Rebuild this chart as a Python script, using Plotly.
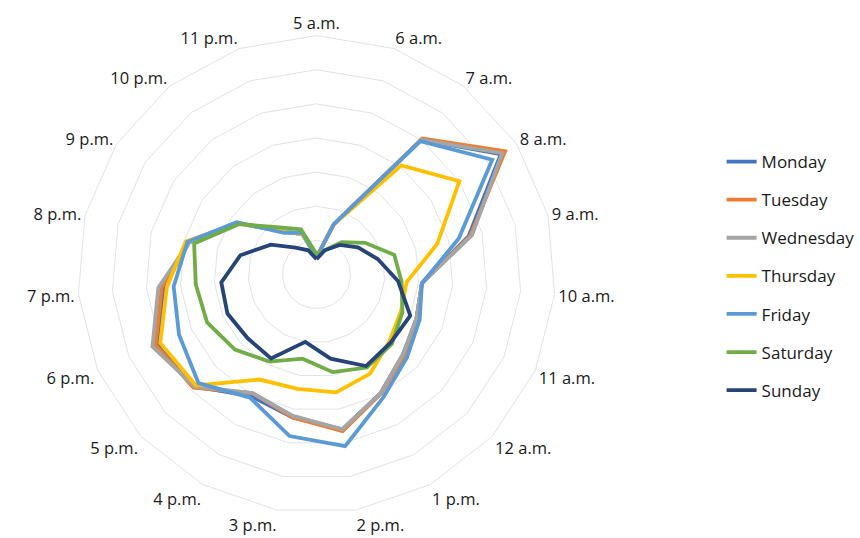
import plotly.graph_objects as go

hours = ["5 a.m.", "6 a.m.", "7 a.m.", "8 a.m.", "9 a.m.", "10 a.m.", "11 a.m.",
         "12 a.m.", "1 p.m.", "2 p.m.", "3 p.m.", "4 p.m.", "5 p.m.", "6 p.m.",
         "7 p.m.", "8 p.m.", "9 p.m.", "10 p.m.", "11 p.m."]

monday    = [0.5, 1.55, 5.0, 6.45, 4.6, 3.1, 3.2, 3.45, 3.95, 4.6, 4.25, 4.05, 4.85, 5.1, 4.5, 3.85, 2.75, 1.6, 1.25]
tuesday   = [0.5, 1.55, 5.05, 6.6, 4.65, 3.1, 3.2, 3.5, 3.97, 4.65, 4.25, 3.95, 4.9, 5.15, 4.55, 3.85, 2.75, 1.6, 1.25]
wednesday = [0.5, 1.55, 5.0, 6.5, 4.7, 3.1, 3.2, 3.45, 3.95, 4.6, 4.2, 3.95, 4.85, 5.25, 4.65, 3.85, 2.75, 1.6, 1.25]
thursday  = [0.5, 1.55, 4.05, 5.0, 3.65, 2.65, 2.7, 2.9, 3.3, 3.5, 3.4, 3.5, 4.8, 5.0, 4.4, 3.95, 2.75, 1.6, 1.25]
friday    = [0.5, 1.55, 4.95, 6.15, 4.3, 3.1, 3.3, 3.6, 4.1, 5.1, 4.8, 4.1, 4.7, 4.4, 4.2, 3.9, 2.8, 1.55, 1.3]
saturday  = [0.6, 0.75, 1.2, 1.7, 2.35, 2.5, 2.75, 3.0, 3.1, 2.9, 2.5, 2.9, 3.25, 3.5, 3.55, 3.7, 2.7, 1.75, 1.4]
sunday    = [0.45, 0.75, 1.1, 1.45, 1.85, 2.4, 3.0, 2.95, 3.05, 2.5, 2.0, 2.8, 2.75, 2.85, 2.8, 2.3, 1.6, 1.0, 0.75]

series = [
    ("Monday", monday, "#4472C4"),
    ("Tuesday", tuesday, "#ED7D31"),
    ("Wednesday", wednesday, "#A5A5A5"),
    ("Thursday", thursday, "#FFC000"),
    ("Friday", friday, "#5B9BD5"),
    ("Saturday", saturday, "#70AD47"),
    ("Sunday", sunday, "#264478"),
]

fig = go.Figure()
for name, vals, color in series:
    fig.add_trace(go.Scatterpolar(
        r=vals + vals[:1],
        theta=hours + hours[:1],
        mode="lines",
        name=name,
        legendgroup=name,
        line=dict(color=color, width=3.8),
    ))

fig.update_layout(
    width=860, height=538,
    margin=dict(l=0, r=0, t=0, b=0),
    paper_bgcolor="white",
    font=dict(family="Open Sans", color="#262626"),
    polar=dict(
        domain=dict(x=[78 / 860, 558 / 860], y=[23.5 / 538, 503.5 / 538]),
        bgcolor="white",
        gridshape="linear",
        radialaxis=dict(range=[0, 7], dtick=1, showticklabels=False, ticks="",
                        showline=False, gridcolor="#e1e3e8", gridwidth=1),
        angularaxis=dict(direction="clockwise", rotation=90, showgrid=False,
                         showline=True, linecolor="#e1e3e8", linewidth=1,
                         ticks="", tickfont=dict(size=16.5, color="#1a1a1a")),
    ),
    showlegend=True,
    legend=dict(x=0.843, y=0.487, xanchor="left", yanchor="middle",
                font=dict(size=17, color="#1a1a1a"), tracegroupgap=13),
)

fig.write_html("out.html")
